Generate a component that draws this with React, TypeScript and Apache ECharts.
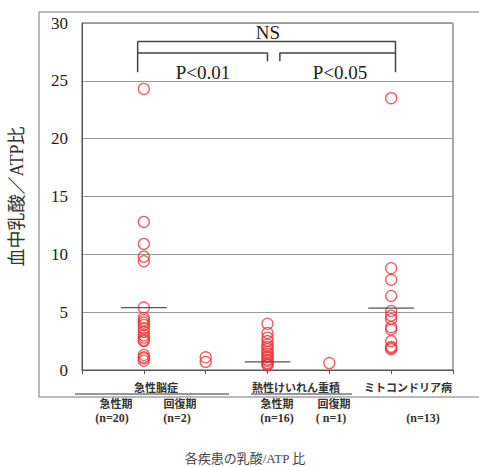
import React, { useEffect, useRef } from "react";
import * as echarts from "echarts";

// Group positions on the x value axis (0..6)
const groupPositions = [1, 2, 3, 4, 5];
const groupNames = [
  "急性脳症 急性期",
  "急性脳症 回復期",
  "熱性けいれん重積 急性期",
  "熱性けいれん重積 回復期",
  "ミトコンドリア病",
];

// Lactate / ATP ratio values per group
const encephalopathyAcute = [24.3, 12.8, 10.9, 9.8, 9.4, 5.4, 4.5, 4.3, 4.1, 3.9, 3.6, 3.3, 3.0, 2.8, 2.6, 2.5, 1.3, 1.1, 1.0, 0.8];
const encephalopathyRecovery = [1.1, 0.7];
const febrileStatusAcute = [4.0, 3.2, 2.8, 2.5, 2.2, 2.0, 1.8, 1.6, 1.4, 1.2, 1.1, 0.9, 0.8, 0.6, 0.5, 0.4];
const febrileStatusRecovery = [0.6];
const mitochondrial = [23.5, 8.8, 7.8, 6.4, 5.1, 4.7, 4.4, 3.7, 3.5, 2.5, 2.0, 1.9, 1.8];

const groupValues = [encephalopathyAcute, encephalopathyRecovery, febrileStatusAcute, febrileStatusRecovery, mitochondrial];

// Mean (representative) bars: group position and value
const meanPositions = [1, 3, 5];
const meanValues = [5.4, 0.7, 5.35];
const meanHalfWidth = 0.37;

// Significance brackets in data coordinates
const bracketNS = [[0.9, 25.75], [0.9, 28.4], [5.07, 28.4], [5.07, 25.75]];
const bracketP01 = [[0.9, 27.4], [3.0, 27.4], [3.0, 26.7]];
const bracketP05 = [[3.2, 26.7], [3.2, 27.4], [5.07, 27.4]];

const yAxisTitle = "血中乳酸／ATP比";
const chartTitle = "各疾患の乳酸/ATP 比";

const SERIF = '"Liberation Serif", "Times New Roman", serif';
const JP = '"Liberation Serif", "Noto Sans CJK JP", serif';
const JPS = '"Noto Sans CJK JP", sans-serif';

export default function App() {
  const ref = useRef<HTMLDivElement>(null);
  useEffect(() => {
    if (!ref.current) return;
    const chart = echarts.init(ref.current, null, { renderer: "svg" });

    const scatterSeries = groupValues.map((vals, i) => ({
      type: "scatter",
      name: groupNames[i],
      symbol: "circle",
      symbolSize: 11,
      itemStyle: { color: "rgba(0,0,0,0)", borderColor: "#ee3535", borderWidth: 1.3 },
      data: vals.map((v) => [groupPositions[i], v]),
      z: 3,
    }));

    const meanSeries = meanPositions.map((p, i) => ({
      type: "line",
      symbol: "none",
      lineStyle: { color: "#555", width: 1.3 },
      data: [
        [p - meanHalfWidth, meanValues[i]],
        [p + meanHalfWidth, meanValues[i]],
      ],
      z: 4,
    }));

    const bracketSeries = [bracketNS, bracketP01, bracketP05].map((b) => ({
      type: "line",
      symbol: "none",
      lineStyle: { color: "#444", width: 1.5 },
      data: b,
      z: 4,
    }));

    const txt = (text: string, x: number, y: number, size: number, family: string, weight = "normal", fill = "#222") => ({
      type: "text",
      x,
      y,
      style: { text, fontSize: size, fontFamily: family, fontWeight: weight, fill, align: "center", verticalAlign: "middle" },
    });

    const line = (x1: number, y1: number, x2: number, y2: number) => ({
      type: "line",
      shape: { x1, y1, x2, y2 },
      style: { stroke: "#333", lineWidth: 1.2 },
    });

    chart.setOption({
      animation: false,
      grid: { left: 78, top: 23, right: 26, bottom: 97, show: true, borderColor: "#555", borderWidth: 1 },
      xAxis: {
        type: "value",
        min: 0,
        max: 6,
        interval: 1,
        axisLine: { show: true, lineStyle: { color: "#555" } },
        axisTick: { show: true, length: 4, lineStyle: { color: "#555" } },
        axisLabel: { show: false },
        splitLine: { show: false },
      },
      yAxis: {
        type: "value",
        min: 0,
        max: 30,
        interval: 5,
        name: yAxisTitle,
        nameLocation: "middle",
        nameGap: 56,
        nameRotate: 90,
        nameTextStyle: { fontSize: 18, color: "#333", fontFamily: JP },
        axisLine: { show: true, lineStyle: { color: "#555" } },
        axisTick: { show: false },
        axisLabel: { fontSize: 17, color: "#222", fontFamily: SERIF, margin: 14 },
        splitLine: { lineStyle: { color: "#999", width: 1 } },
      },
      series: [...scatterSeries, ...meanSeries, ...bracketSeries],
      graphic: [
        {
          type: "rect",
          shape: { x: 39, y: 12, width: 460, height: 385 },
          style: { fill: "none", stroke: "#777", lineWidth: 1 },
          z: -1,
        },
        txt("NS", 268, 32, 19, SERIF),
        txt("P<0.01", 203, 72, 19, SERIF),
        txt("P<0.05", 340, 72, 19, SERIF),
        txt("急性脳症", 156, 387, 11, JPS, "bold", "#333"),
        txt("熱性けいれん重積", 296, 387, 11, JPS, "bold", "#333"),
        txt("ミトコンドリア病", 408, 387, 11, JPS, "bold", "#333"),
        line(75, 394, 229, 394),
        line(251, 394, 352, 394),
        txt("急性期", 116, 403, 11, JPS, "bold", "#333"),
        txt("回復期", 180, 403, 11, JPS, "bold", "#333"),
        txt("急性期", 277, 403, 11, JPS, "bold", "#333"),
        txt("回復期", 334, 403, 11, JPS, "bold", "#333"),
        txt("(n=20)", 112, 418, 12, SERIF, "bold", "#333"),
        txt("(n=2)", 177, 418, 12, SERIF, "bold", "#333"),
        txt("(n=16)", 277, 418, 12, SERIF, "bold", "#333"),
        txt("( n=1)", 331, 418, 12, SERIF, "bold", "#333"),
        txt("(n=13)", 423, 418, 12, SERIF, "bold", "#333"),
        txt(chartTitle, 245, 458, 13, JP, "normal", "#444"),
      ],
    });
    return () => chart.dispose();
  }, []);

  return (
    <div
      ref={ref}
      style={{ position: "fixed", left: 0, top: 0, width: 479, height: 467, background: "#fff" }}
    />
  );
}
